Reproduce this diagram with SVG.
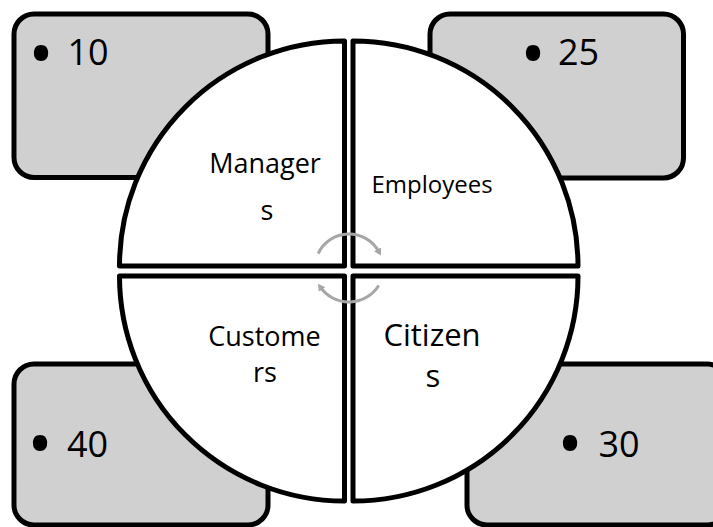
<svg xmlns="http://www.w3.org/2000/svg" width="713" height="527" viewBox="0 0 713 527">
<style>
.box{fill:#d0d0d0;stroke:#000;stroke-width:5}
.q{fill:#fff;stroke:#000;stroke-width:5;stroke-linejoin:round}
.t{font-family:"Open Sans","Noto Sans",sans-serif;fill:#000}
.num{font-size:36px;text-anchor:middle}
.bul{font-size:68px;text-anchor:middle}
.lbl{text-anchor:middle}
.arc{fill:none;stroke:#a6a6a6;stroke-width:3}
</style>
<defs>
<marker id="ah" markerUnits="userSpaceOnUse" markerWidth="10" markerHeight="10" refX="3" refY="4" orient="auto">
<path d="M0,0 L7,4 L0,8 Z" fill="#a6a6a6"/>
</marker>
</defs>
<g id="box-tl"><rect class="box" x="14" y="14" width="254" height="163.5" rx="20"/>
<text class="t bul" x="41" y="77.5">•</text><text class="t num" x="88" y="65">10</text></g>
<g id="box-tr"><rect class="box" x="430" y="14" width="253.5" height="164" rx="20"/>
<text class="t bul" x="533" y="77.5">•</text><text class="t num" x="578.5" y="65">25</text></g>
<g id="box-bl"><rect class="box" x="14" y="364" width="254" height="161" rx="20"/>
<text class="t bul" x="40" y="467.5">•</text><text class="t num" x="87.5" y="457">40</text></g>
<g id="box-br"><rect class="box" x="467" y="364" width="260" height="161" rx="20"/>
<text class="t bul" x="570" y="467.5">•</text><text class="t num" x="619" y="457">30</text></g>
<g id="q-managers"><path class="q" d="M344.5,266 L119.5,266 A225 225 0 0 1 344.5,41 Z"/>
<text class="t lbl" font-size="27" x="265" y="173">Manager</text><text class="t lbl" font-size="27" x="267" y="219.5">s</text></g>
<g id="q-employees"><path class="q" d="M353,266 L353,41 A225 225 0 0 1 578,266 Z"/>
<text class="t lbl" font-size="24" x="432" y="193">Employees</text></g>
<g id="q-customers"><path class="q" d="M344.5,276 L344.5,501 A225 225 0 0 1 119.5,276 Z"/>
<text class="t lbl" font-size="27" x="264.5" y="346">Custome</text><text class="t lbl" font-size="27" x="265" y="382">rs</text></g>
<g id="q-citizens"><path class="q" d="M353,276 L578,276 A225 225 0 0 1 353,501 Z"/>
<text class="t lbl" font-size="31" x="432" y="346">Citizen</text><text class="t lbl" font-size="31" x="433" y="387">s</text></g>
<g id="connectors">
<path class="arc" d="M318.2,253.6 A34 34 0 0 1 379,252" marker-end="url(#ah)"/>
<path class="arc" d="M378.7,285.5 A35 35 0 0 1 320.3,287.1" marker-end="url(#ah)"/>
</g>
</svg>
